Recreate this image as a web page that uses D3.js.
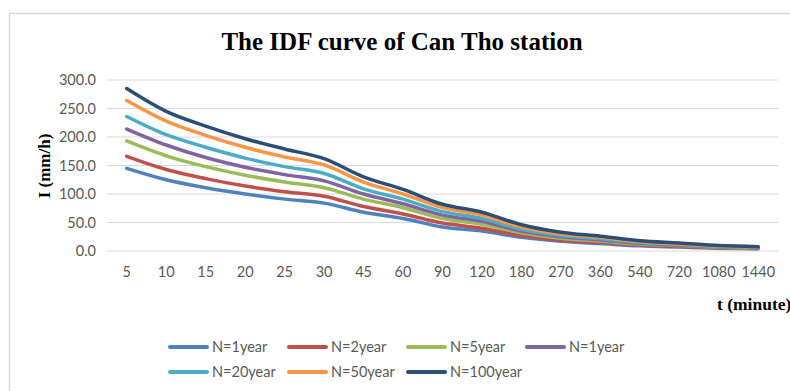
<!DOCTYPE html>
<html>
<head>
<meta charset="utf-8">
<script src="https://cdn.jsdelivr.net/npm/d3@7/dist/d3.min.js"></script>
<style>
  html, body { margin: 0; padding: 0; background: #fff; }
  svg { display: block; }
</style>
</head>
<body>
<svg id="chart" width="790" height="391"></svg>
<script>
// Rainfall durations (minutes)
const durations = ["5","10","15","20","25","30","45","60","90","120","180","270","360","540","720","1080","1440"];

// Rainfall intensity (mm/h) for each return period
const n1   = [145, 125, 111, 100, 91, 84, 68, 57, 42, 35, 24, 17, 13, 9, 7, 4.9, 3.9];
const n2   = [166, 143, 127, 114, 104, 96, 78, 65, 49, 40, 27, 19, 15, 10.5, 8, 5.6, 4.5];
const n5   = [193, 167, 148, 133, 121, 111, 91, 76, 57, 47, 32, 22.5, 17.5, 12.3, 9.5, 6.6, 5.3];
const n10  = [214, 186, 164, 147, 134, 123, 100, 83, 63, 52, 35, 25, 19.5, 13.5, 10.5, 7.3, 5.8];
const n20  = [236, 204, 182, 163, 148, 136, 109, 91, 69, 57, 38, 27, 21.5, 15, 11.5, 8, 6.4];
const n50  = [264, 228, 203, 182, 165, 151, 121, 100, 76, 63, 42, 30, 24, 16.5, 12.5, 8.7, 7];
const n100 = [285, 245, 219, 197, 179, 162, 130, 108, 82, 68, 46, 33, 26, 18, 14, 9.5, 7.5];

const seriesNames = ["N=1year", "N=2year", "N=5year", "N=1year", "N=20year", "N=50year", "N=100year"];
const seriesValues = [n1, n2, n5, n10, n20, n50, n100];
const seriesColors = ["#4F81BD", "#C0504D", "#9BBB59", "#8064A2", "#4BACC6", "#F79646", "#2C4D75"];

const yTicks = [0, 50, 100, 150, 200, 250, 300];

const svg = d3.select("#chart");

// Chart frame
svg.append("path")
  .attr("d", "M9.5,391 V13.5 H790")
  .attr("fill", "none")
  .attr("stroke", "#d9d9d9")
  .attr("stroke-width", 1.5);

const x = d3.scalePoint().domain(durations).range([107, 778]).padding(0.5);
const y = d3.scaleLinear().domain([0, 300]).range([251, 80]);

// Gridlines
svg.append("g")
  .selectAll("line")
  .data(yTicks)
  .join("line")
  .attr("x1", 107).attr("x2", 778)
  .attr("y1", d => y(d)).attr("y2", d => y(d))
  .attr("stroke", "#d9d9d9")
  .attr("stroke-width", 1);

// Y tick labels
svg.append("g")
  .selectAll("text")
  .data(yTicks)
  .join("text")
  .attr("x", 96)
  .attr("y", d => y(d))
  .attr("dy", "0.35em")
  .attr("text-anchor", "end")
  .attr("font-family", "Lato, 'Open Sans', sans-serif")
  .attr("font-size", 14.5)
  .attr("fill", "#595959")
  .text(d => d3.format(".1f")(d));

// X tick labels
svg.append("g")
  .selectAll("text")
  .data(durations)
  .join("text")
  .attr("x", d => x(d))
  .attr("y", 272)
  .attr("dy", "0.35em")
  .attr("text-anchor", "middle")
  .attr("font-family", "Lato, 'Open Sans', sans-serif")
  .attr("font-size", 14.5)
  .attr("fill", "#595959")
  .text(d => d);

// Series lines
const line = d3.line()
  .x((d, i) => x(durations[i]))
  .y(d => y(d))
  .curve(d3.curveCatmullRom.alpha(0.5));

svg.append("g")
  .selectAll("path")
  .data(seriesValues)
  .join("path")
  .attr("d", d => line(d))
  .attr("fill", "none")
  .attr("stroke", (d, i) => seriesColors[i])
  .attr("stroke-width", 3.5)
  .attr("stroke-linecap", "round")
  .attr("stroke-linejoin", "round");

// Title
svg.append("text")
  .attr("x", 402)
  .attr("y", 50)
  .attr("text-anchor", "middle")
  .attr("font-family", "'Liberation Serif', 'Times New Roman', serif")
  .attr("font-weight", "bold")
  .attr("font-size", 25)
  .attr("fill", "#000")
  .text("The IDF curve of Can Tho station");

// Axis titles
svg.append("text")
  .attr("transform", "translate(50,166) rotate(-90)")
  .attr("text-anchor", "middle")
  .attr("font-family", "'Liberation Serif', 'Times New Roman', serif")
  .attr("font-weight", "bold")
  .attr("font-size", 17)
  .attr("fill", "#000")
  .text("I (mm/h)");

svg.append("text")
  .attr("x", 717)
  .attr("y", 310)
  .attr("font-family", "'Liberation Serif', 'Times New Roman', serif")
  .attr("font-weight", "bold")
  .attr("font-size", 17.5)
  .attr("fill", "#000")
  .text("t (minute)");

// Legend
const legend = svg.append("g")
  .selectAll("g")
  .data(seriesNames)
  .join("g")
  .attr("transform", (d, i) => `translate(${170 + (i % 4) * 119},${347 + Math.floor(i / 4) * 25})`);

legend.append("line")
  .attr("x1", 0).attr("x2", 37)
  .attr("y1", 0).attr("y2", 0)
  .attr("stroke", (d, i) => seriesColors[i])
  .attr("stroke-width", 4)
  .attr("stroke-linecap", "round");

legend.append("text")
  .attr("x", 42)
  .attr("y", 0)
  .attr("dy", "0.35em")
  .attr("font-family", "Lato, 'Open Sans', sans-serif")
  .attr("font-size", 14.5)
  .attr("fill", "#595959")
  .text(d => d);
</script>
</body>
</html>
